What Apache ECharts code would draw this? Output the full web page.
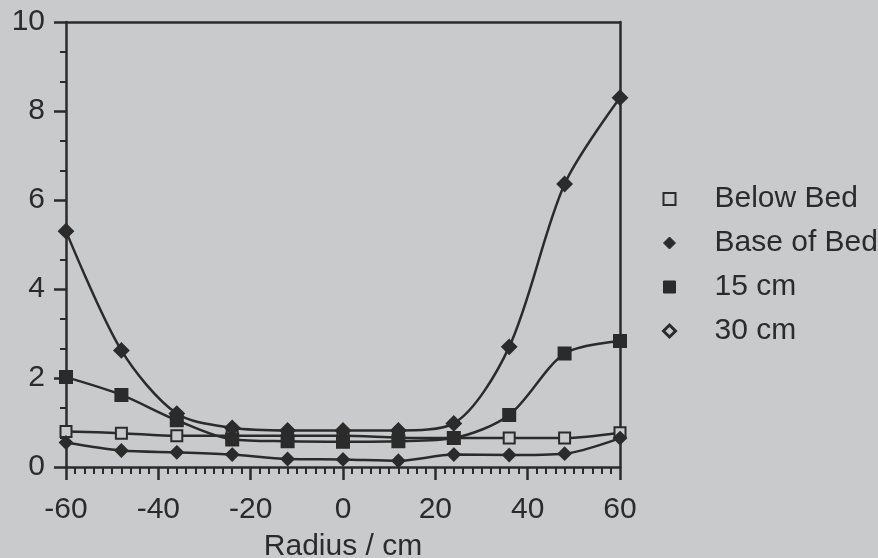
<!DOCTYPE html>
<html>
<head>
<meta charset="utf-8">
<script src="https://cdn.jsdelivr.net/npm/echarts@6/dist/echarts.min.js"></script>
<style>
html, body { margin: 0; padding: 0; background: #c9cacc; }
#chart { width: 878px; height: 558px; }
</style>
</head>
<body>
<div id="chart"></div>
<script>
var radius = [-60, -48, -36, -24, -12, 0, 12, 24, 36, 48, 60];
var belowBed = [0.8, 0.76, 0.7, 0.7, 0.7, 0.7, 0.66, 0.65, 0.65, 0.65, 0.77];
var baseOfBed = [5.3, 2.62, 1.2, 0.88, 0.82, 0.82, 0.82, 0.98, 2.7, 6.36, 8.3];
var cm15 = [2.02, 1.62, 1.05, 0.62, 0.58, 0.57, 0.58, 0.65, 1.17, 2.55, 2.83];
var cm30 = [0.55, 0.37, 0.33, 0.28, 0.18, 0.17, 0.14, 0.28, 0.27, 0.3, 0.65];

var ink = '#2b2b2b';
var bg = '#c9cacc';

function pairs(vals) {
	return radius.map(function (r, i) { return [r, vals[i]]; });
}

function line(name, vals, symbol, size, fill) {
	return {
		name: name,
		type: 'line',
		data: pairs(vals),
		smooth: 0.3,
		symbol: symbol,
		symbolSize: size,
		lineStyle: { color: ink, width: 2.5 },
		itemStyle: { color: fill, borderColor: ink, borderWidth: 2 },
		emphasis: { disabled: true }
	};
}

var myChart = echarts.init(document.getElementById('chart'));
myChart.setOption({
	backgroundColor: bg,
	animation: false,
	textStyle: { fontFamily: 'Liberation Sans', color: ink },
	grid: { left: 66, right: 258, top: 22, bottom: 91, outerBoundsMode: 'none', containLabel: false },
	legend: {
		orient: 'vertical',
		left: 657,
		top: 177,
		itemWidth: 12,
		itemHeight: 12,
		itemGap: 10,
		textStyle: { fontSize: 30, color: ink, lineHeight: 34, padding: [0, 0, 0, 34] },
		data: [
			{ name: 'Below Bed', icon: 'rect', itemStyle: { color: bg, borderColor: ink, borderWidth: 2 } },
			{ name: 'Base of Bed', icon: 'diamond', itemStyle: { color: ink, borderColor: ink, borderWidth: 1 } },
			{ name: '15 cm', icon: 'rect', itemStyle: { color: ink, borderColor: ink, borderWidth: 1 } },
			{ name: '30 cm', icon: 'diamond', itemStyle: { color: bg, borderColor: ink, borderWidth: 3 } }
		]
	},
	xAxis: [{
		type: 'value',
		min: -60,
		max: 60,
		interval: 20,
		name: 'Radius / cm',
		nameLocation: 'middle',
		nameGap: 65,
		nameTextStyle: { fontSize: 30, color: ink },
		axisLine: { onZero: false, lineStyle: { color: ink, width: 2.5 } },
		axisTick: { length: 13, lineStyle: { color: ink, width: 2.5 } },
		minorTick: { show: true, splitNumber: 10, length: 7, lineStyle: { color: ink, width: 2 } },
		axisLabel: { fontSize: 30, color: ink, margin: 28 },
		splitLine: { show: false }
	}, {
		type: 'value',
		position: 'top',
		min: -60,
		max: 60,
		axisLine: { onZero: false, lineStyle: { color: ink, width: 2.5 } },
		axisTick: { show: false },
		axisLabel: { show: false },
		splitLine: { show: false }
	}],
	yAxis: [{
		type: 'value',
		min: 0,
		max: 10,
		interval: 2,
		axisLine: { show: true, onZero: false, lineStyle: { color: ink, width: 2.5 } },
		axisTick: { show: true, length: 12, lineStyle: { color: ink, width: 2.5 } },
		minorTick: { show: true, splitNumber: 3, length: 6, lineStyle: { color: ink, width: 2 } },
		axisLabel: { fontSize: 30, color: ink, margin: 21 },
		splitLine: { show: false }
	}, {
		type: 'value',
		position: 'right',
		min: 0,
		max: 10,
		axisLine: { show: true, onZero: false, lineStyle: { color: ink, width: 2.5 } },
		axisTick: { show: false },
		axisLabel: { show: false },
		splitLine: { show: false }
	}],
	series: [
		line('Below Bed', belowBed, 'rect', 11, bg),
		line('Base of Bed', baseOfBed, 'diamond', 14, ink),
		line('15 cm', cm15, 'rect', 12, ink),
		line('30 cm', cm30, 'diamond', 12, ink)
	]
});
window.addEventListener('resize', function () {
	myChart.resize();
});
</script>
</body>
</html>
